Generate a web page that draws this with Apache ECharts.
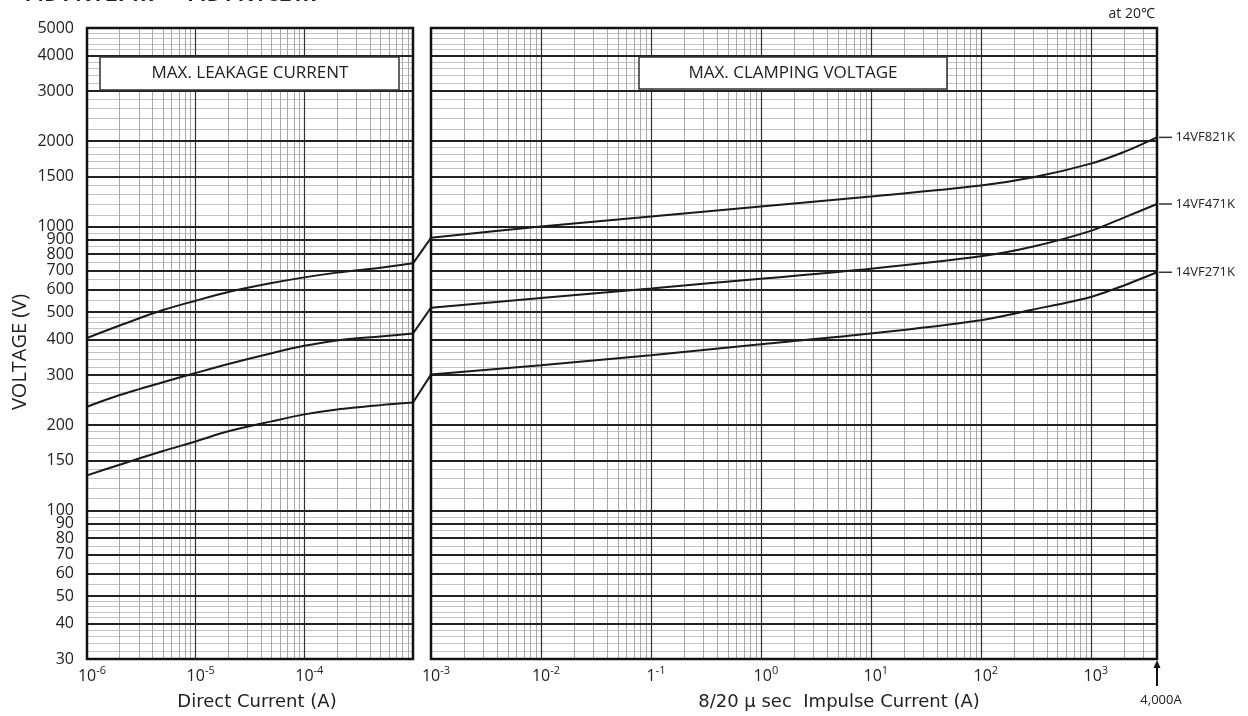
<!DOCTYPE html>
<html>
<head>
<meta charset="utf-8">
<script src="https://cdn.jsdelivr.net/npm/echarts@6/dist/echarts.min.js"></script>
<style>
  html, body { margin: 0; padding: 0; background: #fff; }
  #chart { width: 1248px; height: 716px; }
</style>
</head>
<body>
<div id="chart"></div>
<script>
// voltage axis: labelled (dark) lines and the finer gray subdivisions
var voltTicks = [30, 40, 50, 60, 70, 80, 90, 100, 150, 200, 300, 400, 500, 600, 700, 800, 900, 1000, 1500, 2000, 3000, 4000, 5000]
var voltMinorSteps = [[30, 50, 2], [50, 100, 5], [100, 200, 10], [200, 500, 20], [500, 1000, 50], [1000, 2000, 100], [2000, 5000, 200]]

// max. leakage current (direct current, A)
var dcCurrent = [1e-6, 2e-6, 5e-6, 1e-5, 2e-5, 5e-5, 1e-4, 2e-4, 5e-4, 1e-3]
var leak271 = [133, 145, 162, 175, 190, 206, 218, 227, 235, 240]
var leak471 = [232, 255, 283, 305, 328, 358, 380, 397, 410, 420]
var leak821 = [405, 448, 508, 548, 588, 632, 662, 688, 716, 742]

// max. clamping voltage (8/20us impulse current, A)
var pulseCurrent = [1e-3, 1e-2, 1e-1, 1, 10, 100, 300, 1000, 2000, 4000]
var clamp271 = [301, 325, 352, 385, 420, 468, 510, 565, 620, 690]
var clamp471 = [518, 560, 605, 655, 710, 785, 850, 965, 1075, 1200]
var clamp821 = [912, 1000, 1085, 1176, 1275, 1394, 1490, 1665, 1830, 2060]

var varistors = ['14VF271K', '14VF471K', '14VF821K']

var TXT = '#222'
var FONT = 'Open Sans'

var chart = echarts.init(document.getElementById('chart'))

function pairs(xs, ys) {
  return xs.map(function(x, i) { return [x, ys[i]] })
}

var minorStyle = { color: '#a8a8a8', width: 1, type: 'solid' }
var hMinorStyle = { color: '#c2c2c2', width: 1.2, type: 'solid' }
var decadeStyle = { color: '#333', width: 1.2, type: 'solid' }
var majorStyle = { color: '#222', width: 2, type: 'solid' }

function vLines(lo, hi, decade) {
  var out = []
  var e0 = Math.floor(Math.log10(lo) + 1e-9)
  var e1 = Math.ceil(Math.log10(hi) - 1e-9)
  for (var e = e0; e <= e1; e++) {
    for (var m = 1; m <= 9; m++) {
      var v = Number(m + 'e' + e)
      if (v <= lo * 1.0001 || v >= hi * 0.9999) continue
      if ((m === 1) !== decade) continue
      out.push({ xAxis: v, lineStyle: decade ? decadeStyle : minorStyle })
    }
  }
  return out
}

function hMinor() {
  var out = []
  voltMinorSteps.forEach(function(s) {
    for (var v = s[0] + s[2]; v < s[1]; v += s[2]) {
      if (voltTicks.indexOf(v) < 0) out.push({ yAxis: v, lineStyle: hMinorStyle })
    }
  })
  return out
}

function hMajor(withLabels) {
  return voltTicks.map(function(v) {
    return { yAxis: v, lineStyle: majorStyle, label: { show: withLabels } }
  })
}

function gridMarks(lo, hi, withLabels) {
  return {
    silent: true,
    symbol: 'none',
    z: 1,
    precision: 12,
    animation: false,
    emphasis: { disabled: true },
    lineStyle: { type: 'solid', color: '#aaa', width: 1 },
    label: {
      show: false,
      position: 'start',
      distance: 13,
      color: TXT,
      fontSize: 16,
      fontFamily: FONT,
      formatter: function(p) { return String(p.value) }
    },
    // light lines first, dark ones drawn over them
    data: hMinor().concat(vLines(lo, hi, false), vLines(lo, hi, true), hMajor(withLabels))
  }
}

function powLabel(oneAt) {
  return function(v) {
    var e = Math.log10(v)
    var r = Math.round(e)
    if (Math.abs(e - r) > 1e-6) return ''
    if (oneAt.hide === r) return ''
    var base = oneAt.one === r ? '1' : '10'
    return '{b|' + base + '}{s|' + r + '}'
  }
}

var powRich = {
  b: { fontSize: 16, fontFamily: FONT, color: TXT },
  s: { fontSize: 11, fontFamily: FONT, color: TXT, padding: [0, 0, 11, 0] }
}

function logY(idx) {
  return {
    type: 'log', logBase: 10, gridIndex: idx, min: 30, max: 5000,
    axisLine: { show: false }, axisTick: { show: false },
    axisLabel: { show: false }, splitLine: { show: false }
  }
}

function curve(name, xi, data, extra) {
  var s = {
    name: name,
    type: 'line',
    xAxisIndex: xi,
    yAxisIndex: xi,
    data: data,
    smooth: 0.3,
    symbol: 'none',
    z: 3,
    silent: true,
    lineStyle: { color: '#1a1a1a', width: 2 }
  }
  for (var k in extra) s[k] = extra[k]
  return s
}

function endTag(name) {
  return {
    show: true,
    distance: 2,
    formatter: '{l|} ' + name,
    color: TXT,
    fontSize: 13,
    fontFamily: FONT,
    rich: { l: { width: 13, height: 1.5, backgroundColor: '#333' } }
  }
}

var leakSets = [leak271, leak471, leak821]
var clampSets = [clamp271, clamp471, clamp821]

var series = []
varistors.forEach(function(n, i) {
  series.push(curve(n, 0, pairs(dcCurrent, leakSets[i]),
    i === 0 ? { markLine: gridMarks(1e-6, 1e-3, true) } : {}))
  var ex = { endLabel: endTag(n) }
  if (i === 0) ex.markLine = gridMarks(1e-3, 4000, false)
  series.push(curve(n, 1, pairs(pulseCurrent, clampSets[i]), ex))
  // jump across the gap between the two panels
  series.push(curve(n, 2, [[0, leakSets[i][leakSets[i].length - 1]], [1, clampSets[i][0]]], { smooth: false }))
})

var option = {
  animation: false,
  backgroundColor: '#fff',
  grid: [
    { left: 87, right: 835, top: 28, bottom: 57, show: true, borderColor: '#111', borderWidth: 2.5, z: 5 },
    { left: 431, right: 91, top: 28, bottom: 57, show: true, borderColor: '#111', borderWidth: 2.5, z: 5 },
    { left: 413, right: 817, top: 28, bottom: 57 }
  ],
  xAxis: [
    {
      type: 'log', logBase: 10, gridIndex: 0, min: 1e-6, max: 1e-3, interval: 1,
      axisLine: { show: false }, axisTick: { show: false }, splitLine: { show: false },
      axisLabel: { margin: 6, padding: [0, 0, 0, 10], formatter: powLabel({ hide: -3 }), rich: powRich }
    },
    {
      type: 'log', logBase: 10, gridIndex: 1, min: 1e-3, max: 4000, interval: 1,
      axisLine: { show: false }, axisTick: { show: false }, splitLine: { show: false },
      axisLabel: { margin: 6, padding: [0, 0, 0, 10], formatter: powLabel({ one: -1 }), rich: powRich }
    },
    { type: 'value', gridIndex: 2, min: 0, max: 1, show: false }
  ],
  yAxis: [logY(0), logY(1), logY(2)],
  series: series,
  graphic: [
    { type: 'text', x: 4, y: -15, z: 100, style: { text: '● 14D14VF271K ～ 14D14VF821K', font: 'bold 20px "Open Sans"', fill: TXT, verticalAlign: 'top' } },
    { type: 'text', x: 1155, y: 14, z: 100, style: { text: 'at 20℃', font: '14px "Open Sans"', fill: TXT, align: 'right', verticalAlign: 'middle' } },
    { type: 'rect', z: 100, shape: { x: 100, y: 57, width: 299, height: 33 }, style: { fill: '#fff', stroke: '#333', lineWidth: 1.5 } },
    { type: 'text', x: 250, y: 73.5, z: 101, style: { text: 'MAX. LEAKAGE CURRENT', font: '17px "Open Sans"', fill: TXT, align: 'center', verticalAlign: 'middle' } },
    { type: 'rect', z: 100, shape: { x: 639, y: 57, width: 308, height: 32 }, style: { fill: '#fff', stroke: '#333', lineWidth: 1.5 } },
    { type: 'text', x: 793, y: 73, z: 101, style: { text: 'MAX. CLAMPING VOLTAGE', font: '17px "Open Sans"', fill: TXT, align: 'center', verticalAlign: 'middle' } },
    { type: 'text', x: 20, y: 352, rotation: Math.PI / 2, z: 100, style: { text: 'VOLTAGE (V)', font: '500 20px "Open Sans"', fill: TXT, align: 'center', verticalAlign: 'middle' } },
    { type: 'text', x: 257, y: 702, z: 100, style: { text: 'Direct Current (A)', font: '18px "DejaVu Sans"', fill: TXT, align: 'center', verticalAlign: 'middle' } },
    { type: 'text', x: 839, y: 702, z: 100, style: { text: '8/20 μ sec  Impulse Current (A)', font: '18px "DejaVu Sans"', fill: TXT, align: 'center', verticalAlign: 'middle' } },
    { type: 'line', z: 100, shape: { x1: 1157, y1: 686, x2: 1157, y2: 665 }, style: { stroke: '#111', lineWidth: 2 } },
    { type: 'polygon', z: 100, shape: { points: [[1157, 660], [1153.5, 668], [1160.5, 668]] }, style: { fill: '#111' } },
    { type: 'text', x: 1161, y: 700, z: 100, style: { text: '4,000A', font: '13px "Open Sans"', fill: TXT, align: 'center', verticalAlign: 'middle' } }
  ]
}

chart.setOption(option)
</script>
</body>
</html>
